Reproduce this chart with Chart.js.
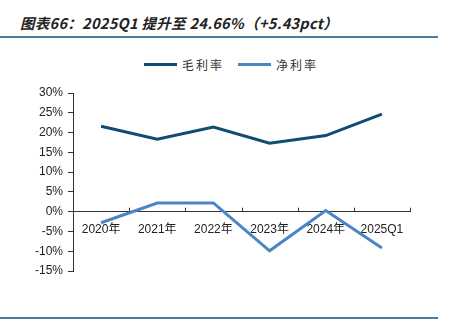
<!DOCTYPE html>
<html><head><meta charset="utf-8">
<script src="https://cdn.jsdelivr.net/npm/chart.js@4/dist/chart.umd.min.js"></script>
<style>
html,body{margin:0;padding:0;background:#fff;width:453px;height:328px;overflow:hidden;}
#title{position:absolute;left:20px;top:12px;font-family:"Noto Sans CJK SC",sans-serif;font-style:italic;font-weight:bold;font-size:14.5px;color:#222;white-space:nowrap;letter-spacing:0.3px;}
.rule{position:absolute;left:0;width:438px;height:2px;background:#4A7E9E;}
#legend{position:absolute;top:54px;left:144px;font-family:"Noto Sans CJK SC",sans-serif;font-size:12px;color:#333;white-space:nowrap;}
#legend span.sw{display:inline-block;width:33px;height:3px;vertical-align:middle;margin-right:5px;}
#legend span.lb{vertical-align:middle;margin-right:14px;letter-spacing:2px;}
#c{position:absolute;left:0;top:0;}
</style></head>
<body>
<div id="title">图表66：2025Q1 提升至 24.66%（+5.43pct）</div>
<div class="rule" style="top:36px"></div>
<div class="rule" style="top:317px"></div>
<div id="legend"><span class="sw" style="background:#0E4C70"></span><span class="lb">毛利率</span><span class="sw" style="background:#4A86C6"></span><span class="lb">净利率</span></div>
<canvas id="c" width="453" height="328"></canvas>
<script>
const categories = ["2020年","2021年","2022年","2023年","2024年","2025Q1"];
const grossMargin = [21.6, 18.3, 21.4, 17.3, 19.23, 24.66];
const netMargin = [-2.8, 2.2, 2.2, -9.9, 0.3, -9.2];
const seriesNames = ["毛利率","净利率"];

const xTicksUp = {
  id:'xTicksUp',
  afterDraw(chart){
    const ctx = chart.ctx, x = chart.scales.x, y = chart.scales.y;
    const y0 = y.getPixelForValue(0);
    ctx.save();
    ctx.strokeStyle = '#333';
    ctx.lineWidth = 1;
    for(let i=0;i<=categories.length;i++){
      const px = Math.round(x.left + (x.right-x.left)*i/categories.length)+0.5;
      ctx.beginPath();ctx.moveTo(px,y0);ctx.lineTo(px,y0-4);ctx.stroke();
    }
    ctx.restore();
  }
};

new Chart(document.getElementById('c'),{
  type:'line',
  data:{labels:categories,datasets:[
    {label:seriesNames[0],data:grossMargin,borderColor:'#0E4C70',borderWidth:3,pointRadius:0,tension:0},
    {label:seriesNames[1],data:netMargin,borderColor:'#4A86C6',borderWidth:3,pointRadius:0,tension:0}
  ]},
  options:{
    responsive:false,animation:false,
    layout:{padding:{left:0,right:43,top:93,bottom:57}},
    plugins:{legend:{display:false},tooltip:{enabled:false}},
    scales:{
      x:{position:{y:0},offset:true,
        grid:{display:false,offset:true},
        border:{display:true,color:'#333',width:1},
        ticks:{color:'#222',padding:3,maxRotation:0,autoSkip:false,font:{family:'"Liberation Sans","Noto Sans CJK SC",sans-serif',size:12}}},
      y:{min:-15,max:30,
        afterFit(s){s.width=73;},
        grid:{drawOnChartArea:false,tickLength:5,color:'#333'},
        border:{display:true,color:'#333',width:1},
        ticks:{stepSize:5,padding:5,color:'#222',callback:v=>v+'%',font:{family:'"Liberation Sans",sans-serif',size:12}}}
    }
  },
  plugins:[xTicksUp]
});
</script>
</body></html>
